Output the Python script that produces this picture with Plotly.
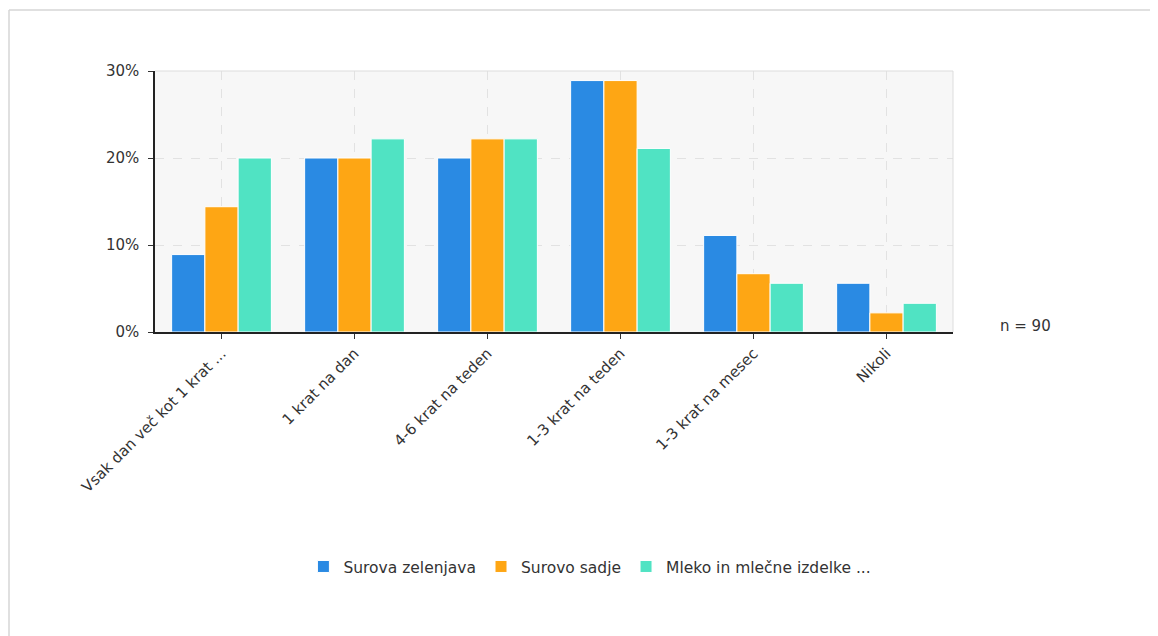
import plotly.graph_objects as go

categories = ["Vsak dan več kot 1 krat ...", "1 krat na dan", "4-6 krat na teden",
              "1-3 krat na teden", "1-3 krat na mesec", "Nikoli"]
series_names = ["Surova zelenjava", "Surovo sadje", "Mleko in mlečne izdelke ..."]
zelenjava = [8.9, 20.0, 20.0, 28.9, 11.1, 5.6]
sadje = [14.4, 20.0, 22.2, 28.9, 6.7, 2.2]
mleko = [20.0, 22.2, 22.2, 21.1, 5.6, 3.3]
colors = ["#2a8ae3", "#fea614", "#50e3c3"]
y_ticks = [0, 10, 20, 30]
y_ticklabels = ["0%", "10%", "20%", "30%"]

FONT = "Verdana, DejaVu Sans, sans-serif"

fig = go.Figure()
for name, vals, col in zip(series_names, [zelenjava, sadje, mleko], colors):
    fig.add_trace(go.Bar(x=categories, y=vals, name=name,
                         marker=dict(color=col, line=dict(color="white", width=1))))

fig.update_layout(
    width=1150, height=628,
    margin=dict(l=147, r=205, t=63, b=304),
    paper_bgcolor="white", plot_bgcolor="#f7f7f7",
    barmode="group", bargap=0.25, bargroupgap=0.0,
    font=dict(family=FONT, size=15, color="#333333"),
    showlegend=True,
    legend=dict(orientation="h", x=0.545, xanchor="center", y=-0.9, yanchor="middle",
                font=dict(size=15.5, color="#333333"), itemwidth=30, traceorder="normal"),
    xaxis=dict(showgrid=True, gridcolor="#e2e2e2", griddash="dash", gridwidth=1,
               showline=True, linecolor="#222222", linewidth=1.5,
               ticks="outside", ticklen=5, tickcolor="#333333",
               tickangle=-45, tickfont=dict(size=15, color="#333333")),
    yaxis=dict(range=[0, 30], tickvals=y_ticks, ticktext=y_ticklabels,
               showgrid=True, gridcolor="#e2e2e2", griddash="dash", gridwidth=1,
               showline=True, linecolor="#222222", linewidth=1.5,
               ticks="outside", ticklen=5, tickcolor="#333333", ticklabelstandoff=6,
               zeroline=False, tickfont=dict(size=15, color="#333333")),
    shapes=[
        dict(type="line", xref="paper", yref="paper", x0=0, x1=1, y0=1, y1=1,
             line=dict(color="#dddddd", width=1)),
        dict(type="line", xref="paper", yref="paper", x0=1, x1=1, y0=0, y1=1,
             line=dict(color="#dddddd", width=1)),
        dict(type="line", xref="paper", yref="paper",
             x0=-146/798, x1=1.4, y0=1 + 61/261, y1=1 + 61/261,
             line=dict(color="#d6d6d6", width=1.5)),
        dict(type="line", xref="paper", yref="paper",
             x0=-146/798, x1=-146/798, y0=1 + 61/261, y1=-2,
             line=dict(color="#d6d6d6", width=1.5)),
    ],
    annotations=[dict(text="n = 90", xref="paper", yref="paper", x=(998-155)/798, y=(332-326)/261,
                      xanchor="left", yanchor="middle", showarrow=False,
                      font=dict(size=15, color="#333333"))],
)

fig.write_html("out.html")
